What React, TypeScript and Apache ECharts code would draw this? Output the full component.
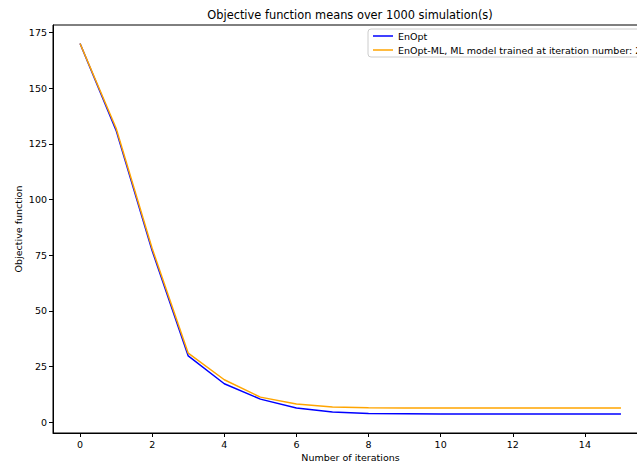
import React, { useEffect, useRef } from "react";
import * as echarts from "echarts";

const iterations = [0, 1, 2, 3, 4, 5, 6, 7, 8, 9, 10, 11, 12, 13, 14, 15];
const enOpt = [170, 131, 77, 29.8, 17.3, 10.4, 6.4, 4.6, 3.9, 3.8, 3.7, 3.7, 3.7, 3.7, 3.7, 3.7];
const enOptML = [170, 132, 78, 31.0, 19.1, 11.3, 8.2, 6.9, 6.5, 6.4, 6.4, 6.4, 6.4, 6.4, 6.4, 6.4];
const xTicks = [0, 2, 4, 6, 8, 10, 12, 14];
const yTicks = [0, 25, 50, 75, 100, 125, 150, 175];
const seriesNames = ["EnOpt", "EnOpt-ML, ML model trained at iteration number: 2"];
const titleText = "Objective function means over 1000 simulation(s)";
const xLabel = "Number of iterations";
const yLabel = "Objective function";

const FONT = "DejaVu Sans";
const FS = 9.5;

export default function App() {
  const ref = useRef<HTMLDivElement>(null);
  useEffect(() => {
    if (!ref.current) return;
    const chart = echarts.init(ref.current, null, { renderer: "svg" });
    const axisCommon = {
      axisLine: { show: true, onZero: false, lineStyle: { color: "#000", width: 1 } },
      axisTick: { show: true, length: 4, lineStyle: { color: "#000", width: 1 } },
      splitLine: { show: false },
    };
    chart.setOption({
      animation: false,
      backgroundColor: "#fff",
      textStyle: { fontFamily: FONT },
      grid: {
        left: 53,
        top: 25,
        width: 595,
        height: 408,
        outerBoundsMode: "none",
        containLabel: false,
        show: true,
        borderColor: "#000",
        borderWidth: 1,
        backgroundColor: "transparent",
      },
      graphic: [
        {
          type: "text",
          x: 350,
          y: 15,
          style: {
            text: titleText,
            font: `11.4px "${FONT}"`,
            fill: "#000",
            textAlign: "center",
            textVerticalAlign: "middle",
          },
        },
      ],
      legend: {
        left: 368,
        top: 29,
        orient: "vertical",
        data: seriesNames,
        icon: "rect",
        itemWidth: 20,
        itemHeight: 1.5,
        itemGap: 4,
        padding: [2, 4, 2, 5],
        backgroundColor: "rgba(255,255,255,0.8)",
        borderColor: "#ccc",
        borderWidth: 1,
        borderRadius: 3,
        textStyle: { fontFamily: FONT, fontSize: FS, color: "#000" },
      },
      xAxis: {
        type: "value",
        min: -0.75,
        max: 15.75,
        name: xLabel,
        nameLocation: "middle",
        nameGap: 19,
        nameMoveOverlap: false,
        nameTextStyle: { fontFamily: FONT, fontSize: FS, color: "#000" },
        ...axisCommon,
        axisTick: { ...axisCommon.axisTick, customValues: xTicks },
        axisLabel: { customValues: xTicks, fontFamily: FONT, fontSize: FS, color: "#000", margin: 6 },
      },
      yAxis: {
        type: "value",
        min: -4.8,
        max: 178.3,
        name: yLabel,
        nameLocation: "middle",
        nameGap: 30,
        nameMoveOverlap: false,
        nameTextStyle: { fontFamily: FONT, fontSize: FS, color: "#000" },
        ...axisCommon,
        axisTick: { ...axisCommon.axisTick, customValues: yTicks },
        axisLabel: { customValues: yTicks, fontFamily: FONT, fontSize: FS, color: "#000", margin: 6 },
      },
      series: [
        {
          name: seriesNames[0],
          type: "line",
          symbol: "none",
          data: iterations.map((x, i) => [x, enOpt[i]]),
          lineStyle: { color: "#0000ff", width: 1.5 },
          itemStyle: { color: "#0000ff" },
        },
        {
          name: seriesNames[1],
          type: "line",
          symbol: "none",
          data: iterations.map((x, i) => [x, enOptML[i]]),
          lineStyle: { color: "#ffa500", width: 1.5 },
          itemStyle: { color: "#ffa500" },
        },
      ],
    });
    return () => chart.dispose();
  }, []);
  return (
    <div
      ref={ref}
      style={{ position: "fixed", left: 0, top: 0, width: 637, height: 466 }}
    />
  );
}
